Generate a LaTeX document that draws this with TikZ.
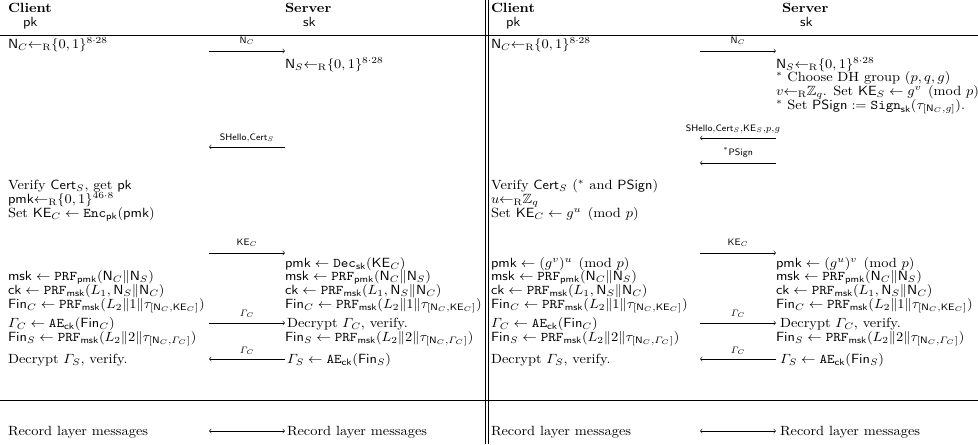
\documentclass[tikz,border=0pt]{standalone}
\usepackage{amsmath,amssymb}
\newcommand{\sampR}{{\leftarrow_{\mathrm{R}}}}
\newcommand{\sfN}{\mathsf{N}}
\newcommand{\prf}{\mathtt{PRF}}
\begin{document}
\begin{tikzpicture}[x=0.75pt,y=-0.75pt,
  txt/.style={anchor=base west,inner sep=0pt,outer sep=0pt,xscale=1.08},
  hdr/.style={txt,font=\bfseries},
  lbl/.style={font=\scriptsize,inner sep=0pt,anchor=base},
  msg/.style={line width=0.4pt},
  rule/.style={line width=0.6pt}]
\path[use as bounding box] (0,0) rectangle (978,444);
\clip (0,0) rectangle (978,444);

% frame lines
\coordinate (t0) at (0,35); \coordinate (t1) at (978,35);
\coordinate (b0) at (0,400); \coordinate (b1) at (978,400);
\coordinate (v1a) at (485.5,0); \coordinate (v1b) at (485.5,444);
\coordinate (v2a) at (488.5,0); \coordinate (v2b) at (488.5,444);
\draw[rule] (t0) -- (t1);
\draw[rule] (b0) -- (b1);
\draw[line width=0.5pt] (v1a) -- (v1b);
\draw[line width=0.5pt] (v2a) -- (v2b);

% ================= LEFT PANEL =================
\node[hdr] (lC) at (8,12) {Client};
\node[txt] (lpk) at (23,26) {$\mathsf{pk}$};
\node[hdr] (lS) at (285,12) {Server};
\node[txt] (lsk) at (303,26) {$\mathsf{sk}$};

\node[txt] (lc1) at (8,48) {$\sfN_C\sampR\{0,1\}^{8\cdot 28}$};
\node[txt] (ls1) at (285,68) {$\sfN_S\sampR\{0,1\}^{8\cdot 28}$};

\node[txt] (lc2) at (8,189) {Verify $\mathsf{Cert}_S$, get $\mathsf{pk}$};
\node[txt] (lc3) at (8,203) {$\mathsf{pmk}\sampR\{0,1\}^{46\cdot 8}$};
\node[txt] (lc4) at (8,217) {Set $\mathsf{KE}_C \leftarrow \mathtt{Enc}_{\mathsf{pk}}(\mathsf{pmk})$};

\node[txt] (ls2) at (285,267) {$\mathsf{pmk} \leftarrow \mathtt{Dec}_{\mathsf{sk}}(\mathsf{KE}_C)$};
\node[txt] (lc5) at (8,280) {$\mathsf{msk} \leftarrow \prf_{\mathsf{pmk}}(\sfN_C\|\sfN_S)$};
\node[txt] (ls3) at (285,280) {$\mathsf{msk} \leftarrow \prf_{\mathsf{pmk}}(\sfN_C\|\sfN_S)$};
\node[txt] (lc6) at (8,294) {$\mathsf{ck} \leftarrow \prf_{\mathsf{msk}}(L_1,\sfN_S\|\sfN_C)$};
\node[txt] (ls4) at (285,294) {$\mathsf{ck} \leftarrow \prf_{\mathsf{msk}}(L_1,\sfN_S\|\sfN_C)$};
\node[txt] (lc7) at (8,308) {$\mathsf{Fin}_C \leftarrow \prf_{\mathsf{msk}}(L_2\|1\|\tau_{[\sfN_C,\mathsf{KE}_C]})$};
\node[txt] (ls5) at (285,308) {$\mathsf{Fin}_C \leftarrow \prf_{\mathsf{msk}}(L_2\|1\|\tau_{[\sfN_C,\mathsf{KE}_C]})$};
\node[txt] (lc8) at (8,327) {$\varGamma_C \leftarrow \mathtt{AE}_{\mathsf{ck}}(\mathsf{Fin}_C)$};
\node[txt] (ls6) at (287,327) {Decrypt $\varGamma_C$, verify.};
\node[txt] (lc9) at (8,341) {$\mathsf{Fin}_S \leftarrow \prf_{\mathsf{msk}}(L_2\|2\|\tau_{[\sfN_C,\varGamma_C]})$};
\node[txt] (ls7) at (285,341) {$\mathsf{Fin}_S \leftarrow \prf_{\mathsf{msk}}(L_2\|2\|\tau_{[\sfN_C,\varGamma_C]})$};
\node[txt] (lc10) at (8,363) {Decrypt $\varGamma_S$, verify.};
\node[txt] (ls8) at (287,363) {$\varGamma_S \leftarrow \mathtt{AE}_{\mathsf{ck}}(\mathsf{Fin}_S)$};
\node[txt] (lc11) at (8,435) {Record layer messages};
\node[txt] (ls9) at (287,435) {Record layer messages};

% left arrows
\coordinate (la1s) at (209,51); \coordinate (la1e) at (285,51);
\draw[msg,->] (la1s) -- (la1e);
\node[lbl] (ll1) at (247,43) {$\sfN_C$};
\coordinate (la2s) at (285,147); \coordinate (la2e) at (209,147);
\draw[msg,->] (la2s) -- (la2e);
\node[lbl] (ll2) at (247,140) {$\mathsf{SHello}{,}\mathsf{Cert}_S$};
\coordinate (la3s) at (209,253); \coordinate (la3e) at (285,253);
\draw[msg,->] (la3s) -- (la3e);
\node[lbl] (ll3) at (247,245) {$\mathsf{KE}_C$};
\coordinate (la4s) at (209,323); \coordinate (la4e) at (285,323);
\draw[msg,->] (la4s) -- (la4e);
\node[lbl] (ll4) at (247,316) {$\varGamma_C$};
\coordinate (la5s) at (285,359); \coordinate (la5e) at (209,359);
\draw[msg,->] (la5s) -- (la5e);
\node[lbl] (ll5) at (247,353) {$\varGamma_C$};
\coordinate (la6s) at (209,431); \coordinate (la6e) at (285,431);
\draw[msg,<->] (la6s) -- (la6e);

% ================= RIGHT PANEL =================
\node[hdr] (rC) at (491,12) {Client};
\node[txt] (rpk) at (506,26) {$\mathsf{pk}$};
\node[hdr] (rS) at (782,12) {Server};
\node[txt] (rsk) at (800,26) {$\mathsf{sk}$};

\node[txt] (rc1) at (491,48) {$\sfN_C\sampR\{0,1\}^{8\cdot 28}$};
\node[txt] (rs1) at (776,68) {$\sfN_S\sampR\{0,1\}^{8\cdot 28}$};
\node[txt] (rs2) at (776,81) {$^*$ Choose DH group $(p,q,g)$};
\node[txt] (rs3) at (776,95) {$v\sampR\mathbb{Z}_q$. Set $\mathsf{KE}_S \leftarrow g^v \pmod p$};
\node[txt] (rs4) at (776,109) {$^*$ Set $\mathsf{PSign} := \mathtt{Sign}_{\mathsf{sk}}(\tau_{[\sfN_C,g]})$.};

\node[txt] (rc2) at (491,189) {Verify $\mathsf{Cert}_S$ ($^*$ and $\mathsf{PSign}$)};
\node[txt] (rc3) at (491,203) {$u\sampR\mathbb{Z}_q$};
\node[txt] (rc4) at (491,217) {Set $\mathsf{KE}_C \leftarrow g^u \pmod p$};

\node[txt] (rc5) at (491,267) {$\mathsf{pmk} \leftarrow (g^v)^u \pmod p$};
\node[txt] (rs5) at (776,267) {$\mathsf{pmk} \leftarrow (g^u)^v \pmod p$};
\node[txt] (rc6) at (491,280) {$\mathsf{msk} \leftarrow \prf_{\mathsf{pmk}}(\sfN_C\|\sfN_S)$};
\node[txt] (rs6) at (776,280) {$\mathsf{msk} \leftarrow \prf_{\mathsf{pmk}}(\sfN_C\|\sfN_S)$};
\node[txt] (rc7) at (491,294) {$\mathsf{ck} \leftarrow \prf_{\mathsf{msk}}(L_1,\sfN_S\|\sfN_C)$};
\node[txt] (rs7) at (776,294) {$\mathsf{ck} \leftarrow \prf_{\mathsf{msk}}(L_1,\sfN_S\|\sfN_C)$};
\node[txt] (rc8) at (491,308) {$\mathsf{Fin}_C \leftarrow \prf_{\mathsf{msk}}(L_2\|1\|\tau_{[\sfN_C,\mathsf{KE}_C]})$};
\node[txt] (rs8) at (776,308) {$\mathsf{Fin}_C \leftarrow \prf_{\mathsf{msk}}(L_2\|1\|\tau_{[\sfN_C,\mathsf{KE}_C]})$};
\node[txt] (rc9) at (491,327) {$\varGamma_C \leftarrow \mathtt{AE}_{\mathsf{ck}}(\mathsf{Fin}_C)$};
\node[txt] (rs9) at (780,327) {Decrypt $\varGamma_C$, verify.};
\node[txt] (rc10) at (491,341) {$\mathsf{Fin}_S \leftarrow \prf_{\mathsf{msk}}(L_2\|2\|\tau_{[\sfN_C,\varGamma_C]})$};
\node[txt] (rs10) at (776,341) {$\mathsf{Fin}_S \leftarrow \prf_{\mathsf{msk}}(L_2\|2\|\tau_{[\sfN_C,\varGamma_C]})$};
\node[txt] (rc11) at (491,363) {Decrypt $\varGamma_S$, verify.};
\node[txt] (rs11) at (780,363) {$\varGamma_S \leftarrow \mathtt{AE}_{\mathsf{ck}}(\mathsf{Fin}_S)$};
\node[txt] (rc12) at (491,435) {Record layer messages};
\node[txt] (rs12) at (780,435) {Record layer messages};

% right arrows
\coordinate (ra1s) at (700,51); \coordinate (ra1e) at (776,51);
\draw[msg,->] (ra1s) -- (ra1e);
\node[lbl] (rl1) at (738,43) {$\sfN_C$};
\coordinate (ra2s) at (776,138); \coordinate (ra2e) at (700,138);
\draw[msg,->] (ra2s) -- (ra2e);
\node[lbl] (rl2) at (733,131) {$\mathsf{SHello}{,}\mathsf{Cert}_S{,}\mathsf{KE}_S{,}p{,}g$};
\coordinate (ra3s) at (776,163); \coordinate (ra3e) at (700,163);
\draw[msg,->] (ra3s) -- (ra3e);
\node[lbl] (rl3) at (738,155) {$^*\mathsf{PSign}$};
\coordinate (ra4s) at (700,253); \coordinate (ra4e) at (776,253);
\draw[msg,->] (ra4s) -- (ra4e);
\node[lbl] (rl4) at (738,245) {$\mathsf{KE}_C$};
\coordinate (ra5s) at (700,323); \coordinate (ra5e) at (776,323);
\draw[msg,->] (ra5s) -- (ra5e);
\node[lbl] (rl5) at (738,316) {$\varGamma_C$};
\coordinate (ra6s) at (776,359); \coordinate (ra6e) at (700,359);
\draw[msg,->] (ra6s) -- (ra6e);
\node[lbl] (rl6) at (738,353) {$\varGamma_C$};
\coordinate (ra7s) at (700,431); \coordinate (ra7e) at (776,431);
\draw[msg,<->] (ra7s) -- (ra7e);
\end{tikzpicture}
\end{document}
